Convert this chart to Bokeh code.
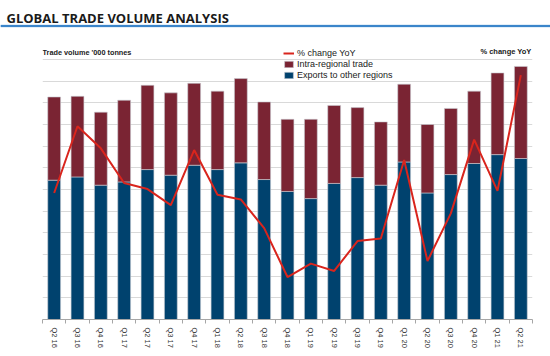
from bokeh.plotting import figure
from bokeh.layouts import column
from bokeh.models import (ColumnDataSource, Range1d, FixedTicker, Label, BoxAnnotation,
                          Legend, LegendItem)
from bokeh.embed import file_html
from bokeh.resources import INLINE

quarters = ["Q2 16", "Q3 16", "Q4 16", "Q1 17", "Q2 17", "Q3 17", "Q4 17", "Q1 18", "Q2 18",
            "Q3 18", "Q4 18", "Q1 19", "Q2 19", "Q3 19", "Q4 19", "Q1 20", "Q2 20", "Q3 20",
            "Q4 20", "Q1 21", "Q2 21"]
exports = [643, 658, 620, 635, 692, 666, 712, 692, 723, 646, 591, 558, 628, 655, 620, 727,
           584, 669, 720, 761, 743]
intra = [384, 372, 337, 377, 389, 380, 378, 362, 389, 358, 333, 366, 360, 323, 292, 359,
         316, 305, 334, 377, 425]
pct_change = [-0.8, 14.6, 9.5, 1.5, 0.1, -3.6, 9.1, -1.2, -2.3, -8.9, -20.2, -17.1, -18.8,
              -11.9, -11.3, 6.8, -16.5, -5.5, 11.5, -0.3, 26.4]
grid_values = list(range(0, 1201, 100))

BLUE = "#00426e"
MAROON = "#7a2433"
RED = "#d9251d"

# ---- title strip ----
t = figure(width=550, height=40, output_backend="svg", toolbar_location=None,
           x_range=Range1d(0, 550), y_range=Range1d(0, 40),
           x_axis_location=None, y_axis_location=None,
           min_border_left=0, min_border_right=0, min_border_top=0, min_border_bottom=0)
t.frame_align = False
t.outline_line_color = None
t.grid.visible = False
t.add_layout(Label(x=6, y=22.7, text="GLOBAL TRADE VOLUME ANALYSIS", text_font="Open Sans",
                   text_font_style="bold", text_font_size="13px", text_color="#1a1a1a",
                   text_baseline="alphabetic"))
t.add_layout(BoxAnnotation(left=0, right=550, bottom=13.2, top=15.8,
                           fill_color="#8fc0e8", fill_alpha=1, line_color=None))
t.add_layout(BoxAnnotation(left=0, right=550, bottom=13.8, top=15.2,
                           fill_color="#1f72c0", fill_alpha=1, line_color=None))

# ---- main chart ----
xs = list(range(len(quarters)))
src = ColumnDataSource(dict(x=xs, exports=exports, intra=intra, pct=pct_change))

p = figure(width=550, height=316, output_backend="svg", toolbar_location=None,
           x_range=Range1d(-0.5, 20.5), y_range=Range1d(0, 1287.7),
           min_border_left=42, min_border_right=18, min_border_top=0, min_border_bottom=37)
p.frame_align = False
p.extra_y_ranges = {"pct": Range1d(-30, 34.385)}
p.outline_line_color = None

bars = p.vbar_stack(["exports", "intra"], x="x", width=0.55, color=[BLUE, MAROON],
                    line_color="#c9cdd3", line_width=0.6, source=src)
line = p.line("x", "pct", source=src, y_range_name="pct", line_color=RED, line_width=2)

p.xgrid.visible = False
p.ygrid.ticker = FixedTicker(ticks=grid_values)
p.ygrid.grid_line_color = "#d9d9d9"
p.ygrid.grid_line_width = 1
p.yaxis.visible = False

ax = p.xaxis[0]
ax.ticker = FixedTicker(ticks=xs, minor_ticks=[i - 0.5 for i in range(len(quarters) + 1)])
ax.major_label_overrides = {i: q for i, q in enumerate(quarters)}
ax.major_label_orientation = "vertical"
ax.major_tick_out = 0
ax.major_tick_in = 0
ax.minor_tick_out = 4
ax.minor_tick_in = 0
ax.minor_tick_line_color = "#a6a6a6"
ax.axis_line_color = "#a6a6a6"
ax.major_label_text_font = "Liberation Sans"
ax.major_label_text_font_size = "7.5px"
ax.major_label_text_color = "#333333"
ax.major_label_standoff = 4

legend = Legend(items=[LegendItem(label="% change YoY", renderers=[line]),
                       LegendItem(label="Intra-regional trade", renderers=[bars[1]]),
                       LegendItem(label="Exports to other regions", renderers=[bars[0]])],
                location=(241, 239), padding=0, margin=0, spacing=1,
                glyph_width=11, glyph_height=8, label_height=10, label_standoff=3,
                label_text_font="Liberation Sans", label_text_font_size="9px",
                label_text_color="#222222", border_line_color=None,
                background_fill_alpha=0)
p.add_layout(legend)

p.add_layout(Label(x=0, y=267, x_units="screen", y_units="screen",
                   text="Trade volume '000 tonnes", text_font="Liberation Sans",
                   text_font_style="bold", text_font_size="7.3px", text_color="#222222",
                   text_baseline="alphabetic"))
p.add_layout(Label(x=489, y=268, x_units="screen", y_units="screen",
                   text="% change YoY", text_font="Liberation Sans", text_align="right",
                   text_font_style="bold", text_font_size="7.5px", text_color="#222222",
                   text_baseline="alphabetic"))

open("out.html", "w").write(file_html(column(t, p, spacing=0), INLINE))
